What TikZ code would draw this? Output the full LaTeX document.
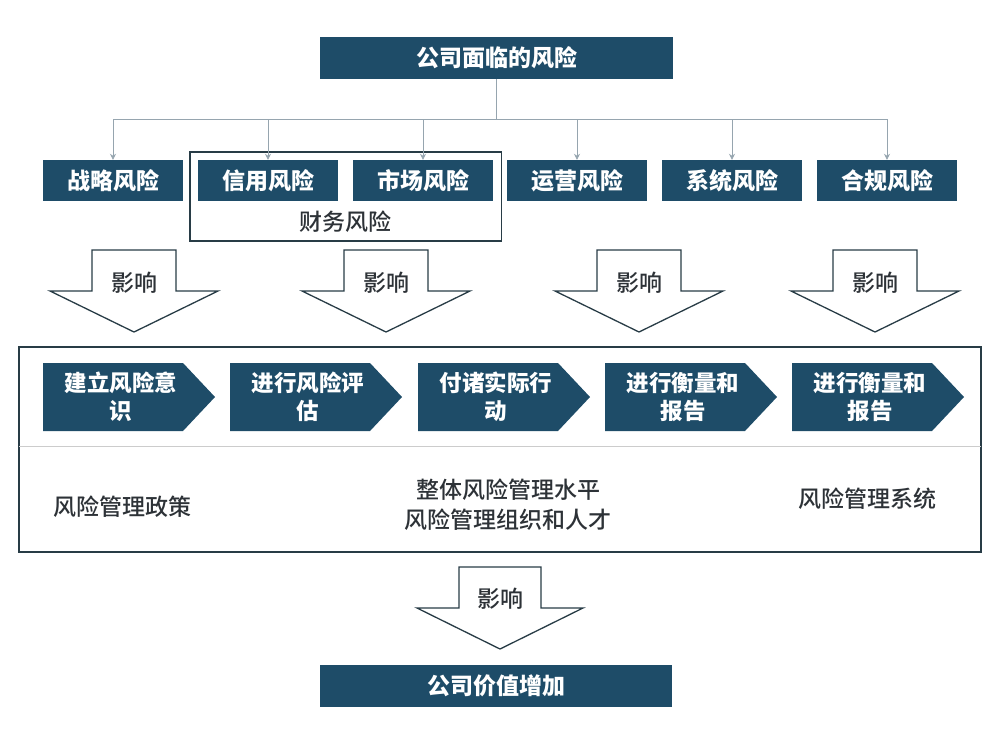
\documentclass[tikz,border=0pt]{standalone}
\usepackage{fontspec}
\setmainfont{Noto Sans CJK SC}
\newfontfamily\mediumcjk{Noto Sans CJK SC Medium}
\usetikzlibrary{fit,arrows.meta}
\definecolor{riskblue}{RGB}{30,76,104}
\definecolor{textgray}{RGB}{45,50,55}
\definecolor{linkgray}{RGB}{150,165,175}
\definecolor{framegray}{RGB}{40,60,70}
\begin{document}
\begin{tikzpicture}[x=1pt,y=-1pt,
		riskbox/.style={fill=riskblue,text=white,font=\fontsize{23}{26}\selectfont\bfseries,
			minimum width=140,minimum height=41,inner sep=0},
		link/.style={draw=linkgray,line width=0.8pt},
		groupbox/.style={draw=framegray,line width=1.4pt,inner xsep=8,inner ysep=8},
		hollow/.style={draw=framegray,fill=white,line width=1.3pt,line join=miter},
		stagebox/.style={fill=riskblue},
		stagetext/.style={text=white,font=\fontsize{22.5}{28}\selectfont\bfseries,align=center,inner sep=0},
		plain/.style={text=textgray,font=\fontsize{23}{30}\selectfont\mediumcjk,align=center,inner sep=0},
	]
	\useasboundingbox (0,0) rectangle (1000,748);
	% top level
	\node[riskbox,minimum width=353,minimum height=42] (risks) at (496.5,58) {公司面临的风险};
	\coordinate (bus) at (496.5,119);
	\node[riskbox] (strategy) at (113,180.5) {战略风险};
	\node[riskbox] (credit) at (268,180.5) {信用风险};
	\node[riskbox] (market) at (423,180.5) {市场风险};
	\node[riskbox] (operation) at (577,180.5) {运营风险};
	\node[riskbox] (system) at (732,180.5) {系统风险};
	\node[riskbox] (compliance) at (887,180.5) {合规风险};
	\node[plain] (finance) at (345,222) {财务风险};
	\node[groupbox,fit=(credit)(market)(finance)] (financial) {};
	\draw[link] (risks.south) -- (bus);
	\foreach \n in {strategy,credit,market,operation,system,compliance}
		\draw[link,-{Stealth[length=6pt,width=6pt]}] (bus) -| (\n.north);
	% influence arrows
	\foreach \x/\n in {134/a,386/b,639/c,875/d}{
		\draw[hollow] (\x-42,250) -- (\x+42,250) -- (\x+42,291) -- (\x+84,291) -- (\x,332)
			-- (\x-84,291) -- (\x-42,291) -- cycle;
		\node[plain] (effect\n) at (\x,283) {影响};
	}
	% process frame
	\draw[groupbox] (19,347) rectangle (981,552);
	\draw[draw=black!20,line width=0.8pt] (19,446) -- (981,446);
	\foreach \x/\n/\t in {43/1/建立风险意\\识,230/2/进行风险评\\估,418/3/付诸实际行\\动,
		605/4/进行衡量和\\报告,792/5/进行衡量和\\报告}{
		\fill[stagebox] (\x,363) -- (\x+140,363) -- (\x+172,397) -- (\x+140,431) -- (\x,431) -- cycle;
		\node[stagetext] (stage\n) at (\x+78,397) {\t};
	}
	\node[plain] (policy) at (122,507) {风险管理政策};
	\node[plain] (level) at (508,505) {整体风险管理水平\\风险管理组织和人才};
	\node[plain] (mgmtsystem) at (867,499) {风险管理系统};
	% result
	\draw[hollow] (459,567) -- (541,567) -- (541,608) -- (583,608) -- (500,649)
		-- (417,608) -- (459,608) -- cycle;
	\node[plain] (effecte) at (500,599) {影响};
	\node[riskbox,minimum width=352,minimum height=42] (value) at (496,686) {公司价值增加};
\end{tikzpicture}
\end{document}
